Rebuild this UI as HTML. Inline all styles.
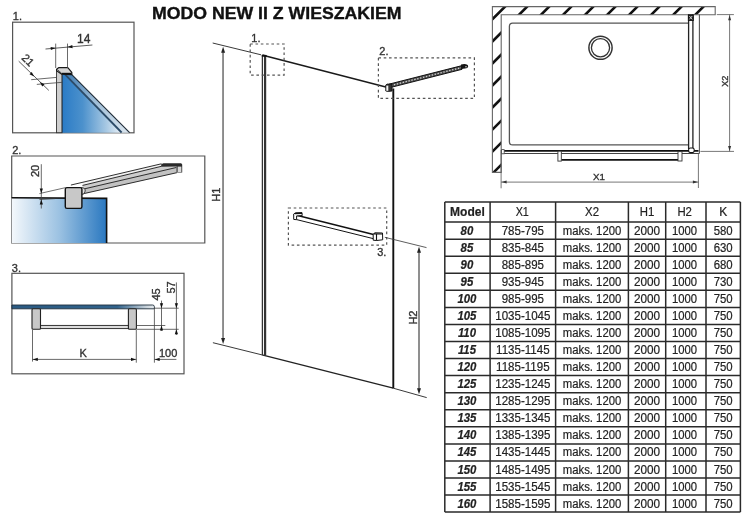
<!DOCTYPE html>
<html><head><meta charset="utf-8"><style>
html,body{margin:0;padding:0;background:#fff;}
body{width:750px;height:523px;overflow:hidden;font-family:"Liberation Sans", sans-serif;}
svg{display:block;}
text{filter:grayscale(1);}
.d{font-family:"Liberation Sans",sans-serif;font-size:11px;fill:#333;stroke:#333;stroke-width:0.35px;}
</style></head><body>
<svg width="750" height="523" viewBox="0 0 750 523">
<rect width="750" height="523" fill="#fff"/>
<text x="152" y="19.2" font-family='"Liberation Sans", sans-serif' font-weight="bold" font-size="16" textLength="249.5" lengthAdjust="spacingAndGlyphs" fill="#111" stroke="#111" stroke-width="0.35">MODO NEW II Z WIESZAKIEM</text>
<defs><linearGradient id="g1" x1="0" y1="0" x2="1" y2="0"><stop offset="0" stop-color="#1f6fbf"/><stop offset="0.55" stop-color="#6fa5d4"/><stop offset="1" stop-color="#e6f0f8"/></linearGradient><linearGradient id="g2" x1="0" y1="0" x2="1" y2="0"><stop offset="0" stop-color="#f4f8fc"/><stop offset="0.5" stop-color="#9cc2e2"/><stop offset="1" stop-color="#2a78c0"/></linearGradient><linearGradient id="g3" x1="0" y1="0" x2="1" y2="0"><stop offset="0" stop-color="#2e5f86"/><stop offset="0.8" stop-color="#3b6c92"/><stop offset="1" stop-color="#c8d4de"/></linearGradient></defs>
<text x="12.8" y="20" class="d">1.</text>
<rect x="12.6" y="22.2" width="121.4" height="110.6" fill="none" stroke="#555" stroke-width="1.2"/>
<defs><linearGradient id="g1b" gradientUnits="userSpaceOnUse" x1="64" y1="74" x2="129" y2="132"><stop offset="0" stop-color="#3f7bb2"/><stop offset="0.45" stop-color="#9bbbd6"/><stop offset="1" stop-color="#dbe6ef"/></linearGradient><linearGradient id="g1a" gradientUnits="userSpaceOnUse" x1="62" y1="0" x2="121" y2="0"><stop offset="0" stop-color="#2a7bc6"/><stop offset="0.35" stop-color="#4c91cc"/><stop offset="0.75" stop-color="#a7c8e3"/><stop offset="1" stop-color="#e8f0f7"/></linearGradient></defs>
<path d="M62,73.6 L64.5,73.6 L122,132.7 L62,132.7 Z" fill="url(#g1a)"/>
<path d="M64.5,73.6 L71.8,74.6 L129.6,132.7 L122,132.7 Z" fill="url(#g1b)"/>
<path d="M64.5,73.8 L121.6,132.5" stroke="#2c4b68" stroke-width="1.8"/>
<path d="M71.8,74.6 L129.6,132.7" stroke="#1e2a36" stroke-width="1.1"/>
<path d="M62,73.5 L62,132.7" stroke="#1a3550" stroke-width="1"/>
<rect x="56.5" y="70" width="5.4" height="62.7" fill="#cfcfcf" stroke="#333" stroke-width="0.9"/>
<path d="M56.6,69.2 L58.6,67.7 L67.8,67.7 L71.8,72.3 L71.8,74.6 L61.8,74.2 L56.6,70.8 Z" fill="#d4d4d4" stroke="#1a1a1a" stroke-width="1.2" stroke-linejoin="round"/>
<path d="M61.8,73.6 L71.5,73.6" stroke="#111" stroke-width="1.6"/>
<path d="M57.5,69.6 L61.6,73.3" stroke="#333" stroke-width="0.8"/>
<path d="M55.7,43.6 L55.7,68 M67.5,43.6 L67.5,68" stroke="#444" stroke-width="0.8"/>
<path d="M45.5,49 L92.4,45" stroke="#333" stroke-width="0.8"/>
<path d="M55.7,48.1 L50.9,50.1 L50.6,46.9 Z" fill="#111"/>
<path d="M67.5,47.1 L72.3,45.1 L72.6,48.3 Z" fill="#111"/>
<text x="77" y="42.8" class="d" style="font-size:12px">14</text>
<path d="M18.7,61.2 L48.8,90.4" stroke="#333" stroke-width="0.8"/>
<path d="M31.2,79.7 L56.6,77.4 M36.8,84.4 L62.2,82.3" stroke="#444" stroke-width="0.8"/>
<path d="M34.2,76.6 L29.5,74.3 L31.7,72.0 Z" fill="#111"/>
<path d="M39.8,82.0 L44.5,84.3 L42.3,86.6 Z" fill="#111"/>
<text x="0" y="0" transform="translate(21,58.4) rotate(45)" class="d">21</text>
<text x="12.2" y="153.7" class="d">2.</text>
<path d="M204.8,156 L11.7,156 L11.7,243 L204.8,243 Z" fill="none" stroke="#555" stroke-width="1.2"/>
<rect x="11.7" y="198" width="94.9" height="45" fill="url(#g2)"/>
<path d="M11.7,197.7 L106.6,198.4 L106.6,243" fill="none" stroke="#111" stroke-width="1.6"/>
<path d="M82.5,182.34 L161.5,163.77 L161.5,166.27 L82.5,185.43 Z" fill="#f2f2f2"/>
<path d="M82.5,185.43 L161.5,166.27 L177.0,166.3 L177.0,167.34 L82.5,189.31 Z" fill="#cdcdcd"/>
<path d="M82.5,189.31 L177.0,167.34 L177.0,172.65 L82.5,193.91 Z" fill="#c2c2c2"/>
<path d="M70.9,185.06 L161.5,163.77 M82.5,185.43 L161.5,166.27 M82.5,189.31 L177.0,167.34 M82.5,193.91 L177.0,172.65" stroke="#1a1a1a" stroke-width="0.9" fill="none"/>
<path d="M81.5,187.5 Q85.5,188 85.2,191 Q85,194.3 81.5,194.6 Z" fill="#e0e0e0" stroke="#222" stroke-width="0.8"/>
<path d="M161.2,164.2 L163.5,163.2 L181.2,163.2 L182.2,164.4 L182.2,172.4 L176.4,172.6 L176.4,166.4 L161.2,166.8 Z" fill="#2a2a2a"/>
<rect x="177.6" y="166.6" width="3.8" height="5.4" fill="#d8d8d8"/>
<path d="M176.6,166.4 L176.6,172.6" stroke="#888" stroke-width="0.8"/>
<rect x="65.3" y="187.6" width="16.6" height="20.8" rx="1.6" fill="#c8c8c8" stroke="#111" stroke-width="1.4"/>
<path d="M41.3,164.2 L41.3,208.5" stroke="#444" stroke-width="0.8"/>
<path d="M39.4,193.6 L65.3,187.7 M39.4,199.6 L55,198.6" stroke="#333" stroke-width="0.7"/>
<path d="M41.3,193.4 L39.7,188.4 L42.9,188.4 Z" fill="#111"/>
<path d="M41.3,199.4 L42.9,204.4 L39.7,204.4 Z" fill="#111"/>
<text x="0" y="0" transform="translate(38.6,177.1) rotate(-90)" class="d">20</text>
<text x="11.8" y="271.5" class="d">3.</text>
<rect x="11.9" y="273.3" width="172.1" height="100.5" fill="none" stroke="#555" stroke-width="1.2"/>
<defs><linearGradient id="g3b" gradientUnits="userSpaceOnUse" x1="11.9" y1="0" x2="154.4" y2="0"><stop offset="0" stop-color="#2a5a82"/><stop offset="0.74" stop-color="#31638c"/><stop offset="0.95" stop-color="#cdd6dd"/><stop offset="1" stop-color="#e6eaed"/></linearGradient></defs>
<path d="M11.9,305 L152.6,305 Q154.4,305 154.4,306.8 L154.4,308.8 L11.9,308.8 Z" fill="url(#g3b)" stroke="#1f2f3c" stroke-width="0.9"/>
<rect x="40.5" y="325.4" width="88" height="3.2" fill="#dcdcdc" stroke="#222" stroke-width="0.9"/>
<rect x="32" y="308.8" width="8.5" height="20.4" rx="1" fill="#c8c8c8" stroke="#222" stroke-width="1.1"/>
<rect x="128.4" y="308.8" width="8" height="20.4" rx="1" fill="#c8c8c8" stroke="#222" stroke-width="1.1"/>
<path d="M32.5,330 L32.5,361.6 M136.3,329.5 L136.3,362.7 M154.4,308 L154.4,362.7" stroke="#444" stroke-width="0.8"/>
<path d="M32.5,359.4 L136.3,359.4 M154.4,359.4 L176.4,359.4" stroke="#444" stroke-width="0.8"/>
<path d="M32.8,359.4 L37.8,357.8 L37.8,361.0 Z" fill="#111"/>
<path d="M136.0,359.4 L131.0,361.0 L131.0,357.8 Z" fill="#111"/>
<path d="M154.7,359.4 L159.7,357.8 L159.7,361.0 Z" fill="#111"/>
<text x="79.5" y="357" class="d">K</text>
<text x="159" y="357" class="d">100</text>
<path d="M154.4,308.2 L178.7,308.2 M137,325.5 L165.3,325.5 M137,329.3 L178.7,329.3" stroke="#444" stroke-width="0.8"/>
<path d="M161.5,300.6 L161.5,330.8 M176.4,282.4 L176.4,335" stroke="#444" stroke-width="0.8"/>
<path d="M161.5,308.2 L159.9,303.2 L163.1,303.2 Z" fill="#111"/>
<path d="M161.5,325.5 L163.1,330.5 L159.9,330.5 Z" fill="#111"/>
<path d="M176.4,308.2 L174.8,303.2 L178.0,303.2 Z" fill="#111"/>
<path d="M176.4,329.3 L178.0,334.3 L174.8,334.3 Z" fill="#111"/>
<text x="0" y="0" transform="translate(160.2,300.6) rotate(-90)" class="d">45</text>
<text x="0" y="0" transform="translate(175.4,293.6) rotate(-90)" class="d">57</text>
<path d="M212.7,43 L261,54.8" stroke="#222" stroke-width="0.9"/>
<path d="M262.9,55.2 L385.8,87" stroke="#1a1a1a" stroke-width="1.45"/>
<path d="M212.9,342.7 L262,354.9" stroke="#222" stroke-width="0.9"/>
<path d="M262,354.9 L393.3,388.2" stroke="#222" stroke-width="1.35"/>
<path d="M393.3,388.2 L426.7,397.6" stroke="#222" stroke-width="0.9"/>
<path d="M262.4,55 L262.4,355" stroke="#333" stroke-width="1.3"/>
<path d="M265.1,55.5 L265.1,355.6" stroke="#333" stroke-width="2.2"/>
<path d="M261.8,55.6 L266.6,56.1" stroke="#111" stroke-width="2"/>
<path d="M393.3,88.4 L393.3,388.2" stroke="#111" stroke-width="1.9"/>
<path d="M389,84.16 L462,65.62 L462,69.32 L389,87.86 Z" fill="#4a4a4a" stroke="#111" stroke-width="1"/>
<path d="M391,85.50 L461,67.72" stroke="#d0d0d0" stroke-width="1.3" stroke-dasharray="1.4,1.6"/>
<path d="M461,64.6 Q463,63.9 466,64.2 Q468.4,64.8 468.2,66.5 Q468,68.3 465,68.6 L461,68.9 Z" fill="#151515"/>
<circle cx="466" cy="66.8" r="0.8" fill="#ccc"/>
<path d="M385.8,85 L387.2,84.1 L392,84.1 L392,91 L388.3,91.4 L385.8,91 Z" fill="#333" stroke="#111" stroke-width="0.9"/>
<rect x="386.3" y="85.6" width="2" height="5.2" fill="#f4f4f4"/>
<path d="M296.6,215.3 L373.5,234.4" stroke="#111" stroke-width="1.5"/>
<path d="M296.6,219.6 L373.5,238.7" stroke="#111" stroke-width="1"/>
<path d="M293.7,214 L295.5,212.8 L302,212.6 L302.2,215.6 L296.6,215.9 L296.6,219.7 L293.7,219.4 Z" fill="#fff" stroke="#111" stroke-width="1" stroke-linejoin="round"/>
<path d="M295,213.6 L302,213.4" stroke="#111" stroke-width="1.3"/>
<path d="M373.2,234 L375,232.8 L382.5,233 L382.7,239.8 L376.5,240.5 L373.2,240.2 Z" fill="#fff" stroke="#111" stroke-width="1" stroke-linejoin="round"/>
<path d="M376.5,234.3 L376.5,240.4 M374,233.9 L382.4,234" stroke="#111" stroke-width="1.1"/>
<g fill="none" stroke="#555" stroke-width="1.2" stroke-dasharray="2.6,2.7"><rect x="250.2" y="44" width="33.9" height="31.1"/><rect x="378.4" y="57.9" width="96" height="40.5"/><rect x="288.4" y="208" width="98.3" height="37.1"/></g>
<text x="251.3" y="41.8" class="d">1.</text>
<text x="379.3" y="55.4" class="d">2.</text>
<text x="377.2" y="255.7" class="d">3.</text>
<path d="M223.05,50 L223.05,340" stroke="#8a8a8a" stroke-width="1.9"/>
<path d="M223.1,46.7 L225.1,52.7 L221.1,52.7 Z" fill="#222"/>
<path d="M223.1,344.0 L221.1,338.0 L225.1,338.0 Z" fill="#222"/>
<text x="0" y="0" transform="translate(220.2,201.8) rotate(-90)" class="d">H1</text>
<path d="M384.8,237.3 L426.5,247.6" stroke="#333" stroke-width="0.8"/>
<path d="M419,250 L419,391" stroke="#8a8a8a" stroke-width="1.9"/>
<path d="M419.0,246.8 L421.0,252.8 L417.0,252.8 Z" fill="#222"/>
<path d="M419.0,394.2 L417.0,388.2 L421.0,388.2 Z" fill="#222"/>
<text x="0" y="0" transform="translate(416.9,324.6) rotate(-90)" class="d">H2</text>
<clipPath id="wallclip"><path d="M492.4,172.4 L492.4,6.6 L715.2,6.6 L715.2,14.7 L501.2,14.7 L501.2,172.4 Z"/></clipPath>
<path d="M492.4,172.4 L492.4,6.6 L715.2,6.6 L715.2,14.7 L501.2,14.7 L501.2,172.4 Z" fill="#fff"/>
<path clip-path="url(#wallclip)" d="M511.7,0 L311.7,200 M533.8,0 L333.8,200 M555.8,0 L355.8,200 M577.9,0 L377.9,200 M599.9,0 L399.9,200 M622.0,0 L422.0,200 M644.0,0 L444.0,200 M666.0,0 L466.0,200 M688.1,0 L488.1,200 M710.1,0 L510.1,200 M732.2,0 L532.2,200 M754.2,0 L554.2,200" stroke="#111" stroke-width="2.6" stroke-linecap="butt"/>
<path d="M492.4,172.4 L492.4,6.6 L715.2,6.6 L715.2,14.7 L501.2,14.7 L501.2,172.4 Z" fill="none" stroke="#666" stroke-width="1.1"/>
<path d="M688,23.1 L512.6,23.1 Q509.4,23.1 509.4,26.3 L509.4,141.7 Q509.4,144.9 512.6,144.9 L688,144.9" fill="none" stroke="#555" stroke-width="1.3"/>
<circle cx="600.5" cy="47.75" r="11.6" fill="none" stroke="#333" stroke-width="1.5"/>
<circle cx="600.5" cy="47.75" r="9.1" fill="none" stroke="#333" stroke-width="1.3"/>
<path d="M688.6,14.6 L688.6,149 M692.9,14.6 L692.9,149" stroke="#222" stroke-width="1.3"/>
<path d="M699.4,14.6 L699.4,153.5" stroke="#555" stroke-width="1.1"/>
<rect x="688.3" y="14.8" width="5" height="5.8" fill="#222" stroke="#111" stroke-width="0.8"/>
<path d="M689.4,16 L692.2,19.4 M692.2,16 L689.4,19.4" stroke="#ddd" stroke-width="0.9"/>
<path d="M501.4,150.8 L698.5,150.8" stroke="#111" stroke-width="1.7"/>
<path d="M501.4,153.5 L699.4,153.5" stroke="#444" stroke-width="1"/>
<rect x="501.6" y="149.6" width="2.6" height="4.2" fill="#fff" stroke="#444" stroke-width="0.8"/>
<rect x="688.6" y="148" width="5.6" height="4.6" rx="1.8" fill="#fff" stroke="#111" stroke-width="1.1"/>
<path d="M561.3,159.8 L678,159.8" stroke="#111" stroke-width="1.7"/>
<rect x="557.9" y="151.2" width="3.4" height="9.9" fill="#fff" stroke="#333" stroke-width="0.9"/>
<rect x="678" y="151.6" width="4" height="9.4" fill="#fff" stroke="#333" stroke-width="0.9"/>
<path d="M501.1,150 L501.1,188.3 M698.4,153 L698.4,188" stroke="#555" stroke-width="0.8"/>
<path d="M501.1,182.1 L698.4,182.1" stroke="#555" stroke-width="0.8"/>
<path d="M501.6,182.1 L506.6,180.6 L506.6,183.6 Z" fill="#333"/>
<path d="M697.9,182.1 L692.9,183.6 L692.9,180.6 Z" fill="#333"/>
<text x="593" y="179.6" class="d" style="font-size:9.8px">X1</text>
<path d="M716.8,14.6 L733.9,14.6 M700.4,151.4 L734,151.4" stroke="#555" stroke-width="0.8"/>
<path d="M729.6,14.6 L729.6,151.4" stroke="#555" stroke-width="0.8"/>
<path d="M729.6,15.2 L731.1,20.2 L728.1,20.2 Z" fill="#333"/>
<path d="M729.6,150.9 L728.1,145.9 L731.1,145.9 Z" fill="#333"/>
<text x="0" y="0" transform="translate(728.1,86.8) rotate(-90)" class="d" style="font-size:9.2px">X2</text>
<path d="M444.8,202.0 L444.8,512.1 M490.1,202.0 L490.1,512.1 M555.6,202.0 L555.6,512.1 M628.4,202.0 L628.4,512.1 M665.7,202.0 L665.7,512.1 M706.0,202.0 L706.0,512.1 M740.4,202.0 L740.4,512.1 M444.8,202.0 L740.4,202.0 M444.8,222.1 L740.4,222.1 M444.8,239.2 L740.4,239.2 M444.8,256.2 L740.4,256.2 M444.8,273.3 L740.4,273.3 M444.8,290.3 L740.4,290.3 M444.8,307.4 L740.4,307.4 M444.8,324.5 L740.4,324.5 M444.8,341.5 L740.4,341.5 M444.8,358.6 L740.4,358.6 M444.8,375.6 L740.4,375.6 M444.8,392.7 L740.4,392.7 M444.8,409.8 L740.4,409.8 M444.8,426.8 L740.4,426.8 M444.8,443.9 L740.4,443.9 M444.8,460.9 L740.4,460.9 M444.8,478.0 L740.4,478.0 M444.8,495.1 L740.4,495.1 M444.8,512.1 L740.4,512.1" stroke="#2a2a2a" stroke-width="1.5" fill="none"/>
<g font-family='"Liberation Sans", sans-serif' font-size="12" fill="#222" stroke="#222" stroke-width="0.2" text-anchor="middle"><text transform="translate(467.45,216.2) scale(1,1)" font-weight="bold">Model</text><text transform="translate(522.25,216.2) scale(0.9,1)" font-weight="normal">X1</text><text transform="translate(592.00,216.2) scale(0.95,1)" font-weight="normal">X2</text><text transform="translate(647.05,216.2) scale(0.95,1)" font-weight="normal">H1</text><text transform="translate(684.65,216.2) scale(0.95,1)" font-weight="normal">H2</text><text transform="translate(723.20,216.2) scale(1,1)" font-weight="normal">K</text><text transform="translate(466.95,234.70) scale(0.95,1)" font-weight="bold" font-style="italic">80</text><text transform="translate(522.85,234.70) scale(0.963,1)">785-795</text><text transform="translate(592.00,234.70) scale(0.945,1)">maks. 1200</text><text transform="translate(647.05,234.70) scale(0.98,1)">2000</text><text transform="translate(684.55,234.70) scale(0.94,1)">1000</text><text transform="translate(723.20,234.70) scale(0.95,1)">580</text><text transform="translate(466.95,251.76) scale(0.95,1)" font-weight="bold" font-style="italic">85</text><text transform="translate(522.85,251.76) scale(0.963,1)">835-845</text><text transform="translate(592.00,251.76) scale(0.945,1)">maks. 1200</text><text transform="translate(647.05,251.76) scale(0.98,1)">2000</text><text transform="translate(684.55,251.76) scale(0.94,1)">1000</text><text transform="translate(723.20,251.76) scale(0.95,1)">630</text><text transform="translate(466.95,268.82) scale(0.95,1)" font-weight="bold" font-style="italic">90</text><text transform="translate(522.85,268.82) scale(0.963,1)">885-895</text><text transform="translate(592.00,268.82) scale(0.945,1)">maks. 1200</text><text transform="translate(647.05,268.82) scale(0.98,1)">2000</text><text transform="translate(684.55,268.82) scale(0.94,1)">1000</text><text transform="translate(723.20,268.82) scale(0.95,1)">680</text><text transform="translate(466.95,285.88) scale(0.95,1)" font-weight="bold" font-style="italic">95</text><text transform="translate(522.85,285.88) scale(0.963,1)">935-945</text><text transform="translate(592.00,285.88) scale(0.945,1)">maks. 1200</text><text transform="translate(647.05,285.88) scale(0.98,1)">2000</text><text transform="translate(684.55,285.88) scale(0.94,1)">1000</text><text transform="translate(723.20,285.88) scale(0.95,1)">730</text><text transform="translate(466.95,302.94) scale(0.95,1)" font-weight="bold" font-style="italic">100</text><text transform="translate(522.85,302.94) scale(0.963,1)">985-995</text><text transform="translate(592.00,302.94) scale(0.945,1)">maks. 1200</text><text transform="translate(647.05,302.94) scale(0.98,1)">2000</text><text transform="translate(684.55,302.94) scale(0.94,1)">1000</text><text transform="translate(723.20,302.94) scale(0.95,1)">750</text><text transform="translate(466.95,320.00) scale(0.95,1)" font-weight="bold" font-style="italic">105</text><text transform="translate(522.85,320.00) scale(0.963,1)">1035-1045</text><text transform="translate(592.00,320.00) scale(0.945,1)">maks. 1200</text><text transform="translate(647.05,320.00) scale(0.98,1)">2000</text><text transform="translate(684.55,320.00) scale(0.94,1)">1000</text><text transform="translate(723.20,320.00) scale(0.95,1)">750</text><text transform="translate(466.95,337.06) scale(0.95,1)" font-weight="bold" font-style="italic">110</text><text transform="translate(522.85,337.06) scale(0.963,1)">1085-1095</text><text transform="translate(592.00,337.06) scale(0.945,1)">maks. 1200</text><text transform="translate(647.05,337.06) scale(0.98,1)">2000</text><text transform="translate(684.55,337.06) scale(0.94,1)">1000</text><text transform="translate(723.20,337.06) scale(0.95,1)">750</text><text transform="translate(466.95,354.12) scale(0.95,1)" font-weight="bold" font-style="italic">115</text><text transform="translate(522.85,354.12) scale(0.963,1)">1135-1145</text><text transform="translate(592.00,354.12) scale(0.945,1)">maks. 1200</text><text transform="translate(647.05,354.12) scale(0.98,1)">2000</text><text transform="translate(684.55,354.12) scale(0.94,1)">1000</text><text transform="translate(723.20,354.12) scale(0.95,1)">750</text><text transform="translate(466.95,371.18) scale(0.95,1)" font-weight="bold" font-style="italic">120</text><text transform="translate(522.85,371.18) scale(0.963,1)">1185-1195</text><text transform="translate(592.00,371.18) scale(0.945,1)">maks. 1200</text><text transform="translate(647.05,371.18) scale(0.98,1)">2000</text><text transform="translate(684.55,371.18) scale(0.94,1)">1000</text><text transform="translate(723.20,371.18) scale(0.95,1)">750</text><text transform="translate(466.95,388.24) scale(0.95,1)" font-weight="bold" font-style="italic">125</text><text transform="translate(522.85,388.24) scale(0.963,1)">1235-1245</text><text transform="translate(592.00,388.24) scale(0.945,1)">maks. 1200</text><text transform="translate(647.05,388.24) scale(0.98,1)">2000</text><text transform="translate(684.55,388.24) scale(0.94,1)">1000</text><text transform="translate(723.20,388.24) scale(0.95,1)">750</text><text transform="translate(466.95,405.30) scale(0.95,1)" font-weight="bold" font-style="italic">130</text><text transform="translate(522.85,405.30) scale(0.963,1)">1285-1295</text><text transform="translate(592.00,405.30) scale(0.945,1)">maks. 1200</text><text transform="translate(647.05,405.30) scale(0.98,1)">2000</text><text transform="translate(684.55,405.30) scale(0.94,1)">1000</text><text transform="translate(723.20,405.30) scale(0.95,1)">750</text><text transform="translate(466.95,422.36) scale(0.95,1)" font-weight="bold" font-style="italic">135</text><text transform="translate(522.85,422.36) scale(0.963,1)">1335-1345</text><text transform="translate(592.00,422.36) scale(0.945,1)">maks. 1200</text><text transform="translate(647.05,422.36) scale(0.98,1)">2000</text><text transform="translate(684.55,422.36) scale(0.94,1)">1000</text><text transform="translate(723.20,422.36) scale(0.95,1)">750</text><text transform="translate(466.95,439.42) scale(0.95,1)" font-weight="bold" font-style="italic">140</text><text transform="translate(522.85,439.42) scale(0.963,1)">1385-1395</text><text transform="translate(592.00,439.42) scale(0.945,1)">maks. 1200</text><text transform="translate(647.05,439.42) scale(0.98,1)">2000</text><text transform="translate(684.55,439.42) scale(0.94,1)">1000</text><text transform="translate(723.20,439.42) scale(0.95,1)">750</text><text transform="translate(466.95,456.48) scale(0.95,1)" font-weight="bold" font-style="italic">145</text><text transform="translate(522.85,456.48) scale(0.963,1)">1435-1445</text><text transform="translate(592.00,456.48) scale(0.945,1)">maks. 1200</text><text transform="translate(647.05,456.48) scale(0.98,1)">2000</text><text transform="translate(684.55,456.48) scale(0.94,1)">1000</text><text transform="translate(723.20,456.48) scale(0.95,1)">750</text><text transform="translate(466.95,473.54) scale(0.95,1)" font-weight="bold" font-style="italic">150</text><text transform="translate(522.85,473.54) scale(0.963,1)">1485-1495</text><text transform="translate(592.00,473.54) scale(0.945,1)">maks. 1200</text><text transform="translate(647.05,473.54) scale(0.98,1)">2000</text><text transform="translate(684.55,473.54) scale(0.94,1)">1000</text><text transform="translate(723.20,473.54) scale(0.95,1)">750</text><text transform="translate(466.95,490.60) scale(0.95,1)" font-weight="bold" font-style="italic">155</text><text transform="translate(522.85,490.60) scale(0.963,1)">1535-1545</text><text transform="translate(592.00,490.60) scale(0.945,1)">maks. 1200</text><text transform="translate(647.05,490.60) scale(0.98,1)">2000</text><text transform="translate(684.55,490.60) scale(0.94,1)">1000</text><text transform="translate(723.20,490.60) scale(0.95,1)">750</text><text transform="translate(466.95,507.66) scale(0.95,1)" font-weight="bold" font-style="italic">160</text><text transform="translate(522.85,507.66) scale(0.963,1)">1585-1595</text><text transform="translate(592.00,507.66) scale(0.945,1)">maks. 1200</text><text transform="translate(647.05,507.66) scale(0.98,1)">2000</text><text transform="translate(684.55,507.66) scale(0.94,1)">1000</text><text transform="translate(723.20,507.66) scale(0.95,1)">750</text></g>
</svg>
</body></html>
